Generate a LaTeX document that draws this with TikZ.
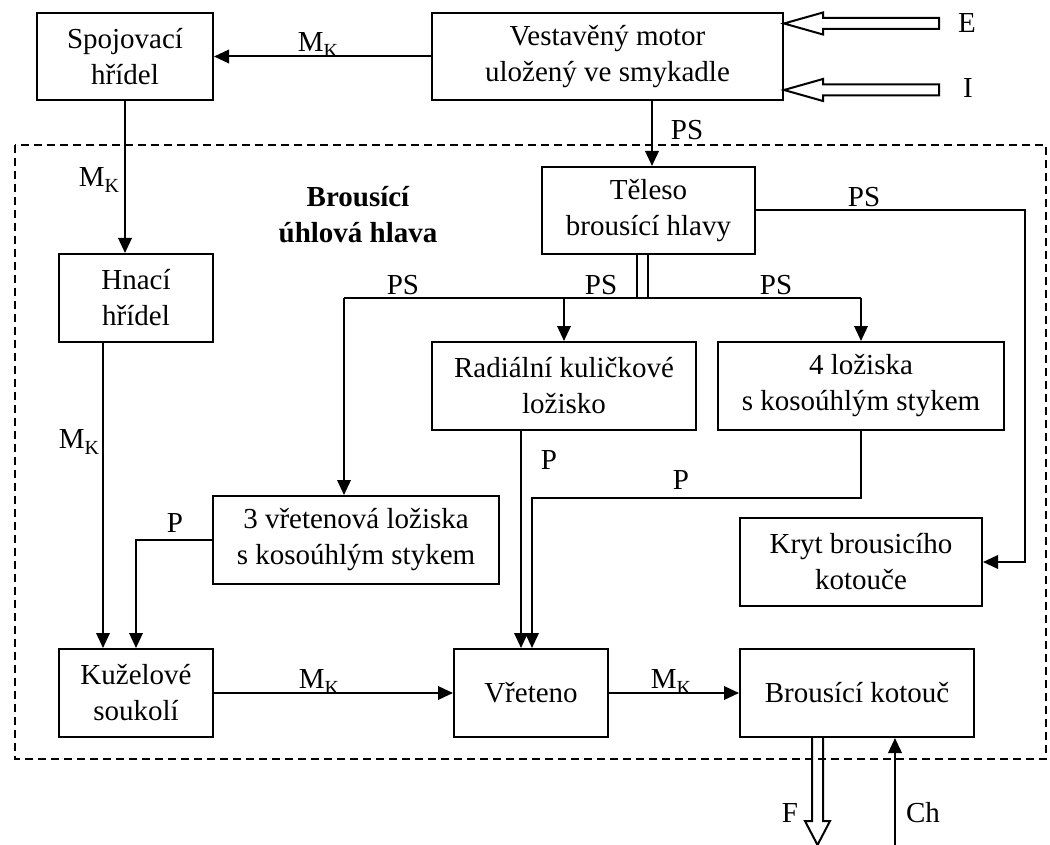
\documentclass[tikz,border=0pt]{standalone}
\usepackage{fontspec}
\setmainfont{Liberation Serif}
\usetikzlibrary{arrows.meta,calc}
\newcommand{\mk}{M\raisebox{-0.22em}{\fontsize{20}{20}\selectfont K}}
\begin{document}
\begin{tikzpicture}[x=1pt,y=-1pt,
  box/.style={draw,line width=2pt,align=center,inner sep=0pt,font=\fontsize{29}{36}\selectfont},
  lab/.style={inner sep=0pt,font=\fontsize{29}{36}\selectfont},
  conn/.style={line width=2pt},
  arr/.style={conn,-{Triangle[length=15pt,width=13.5pt]}},
  hollow/.style={line width=2pt,line join=miter},
  frame/.style={line width=1.6pt,dash pattern=on 8pt off 5pt}]
\useasboundingbox (0,0) rectangle (1050,845);

% dashed frame
\draw[frame] (15,145) rectangle (1046,759);

% boxes
\node[box,minimum width=176pt,minimum height=87pt] (spoj) at (125,56.5) {Spojovací\\hřídel};
\node[box,minimum width=351pt,minimum height=87pt] (motor) at (607.5,56.5) {Vestavěný motor\\uložený ve smykadle};
\node[box,minimum width=213pt,minimum height=87pt] (teleso) at (648.5,210.5) {Těleso\\brousící hlavy};
\node[box,minimum width=154pt,minimum height=88pt] (hnaci) at (136,298) {Hnací\\hřídel};
\node[box,minimum width=264pt,minimum height=88pt] (radial) at (564,386) {Radiální kuličkové\\ložisko};
\node[box,minimum width=286pt,minimum height=88pt] (ctyri) at (861,386) {4 ložiska\\s kosoúhlým stykem};
\node[box,minimum width=286pt,minimum height=88pt] (tri) at (356,540) {3 vřetenová ložiska\\s kosoúhlým stykem};
\node[box,minimum width=242pt,minimum height=88pt] (kryt) at (861,562) {Kryt brousicího\\kotouče};
\node[box,minimum width=154pt,minimum height=88pt] (kuz) at (136,693) {Kuželové\\soukolí};
\node[box,minimum width=154pt,minimum height=88pt] (vret) at (531,693) {Vřeteno};
\node[box,minimum width=234pt,minimum height=88pt] (bk) at (857,693) {Brousící kotouč};

% title
\node[lab,align=center,font=\fontsize{29}{36}\selectfont\bfseries] (title) at (358,214.5) {Brousící\\úhlová hlava};

% connectors
\draw[arr] (motor.west) -- (spoj.east);
\draw[arr] (spoj.south) -- (spoj.south |- hnaci.north);
\coordinate (hn) at ($(hnaci.south)+(-33,0)$);
\draw[arr] (hn) -- (hn |- kuz.north);
\coordinate (ms) at ($(teleso.north)+(3.5,0)$);
\draw[arr] (ms |- motor.south) -- (ms);
\coordinate (kr) at (1025,562);
\draw[arr] (teleso.east) -- (teleso.east -| kr) -- (kr) -- (kryt.east);

% bus from teleso
\coordinate (d1) at ($(teleso.south)+(-11.5,0)$);
\coordinate (d2) at ($(teleso.south)+(-0.5,0)$);
\coordinate (busL) at (344,298);
\coordinate (busR) at (861,298);
\draw[conn] (d1) -- (d1 |- busL);
\draw[conn] (d2) -- (d2 |- busL);
\draw[conn] (busL) -- (busR);
\draw[arr] (busL) -- (busL |- tri.north);
\draw[arr] (radial.north |- busL) -- (radial.north);
\draw[arr] (busR) -- (ctyri.north);

% P connectors
\draw[arr] (tri.west) -| (kuz.north);
\coordinate (rp) at ($(radial.south)+(-43,0)$);
\draw[arr] (rp) -- (rp |- vret.north);
\coordinate (pj) at (532,498);
\draw[arr] (ctyri.south) |- (pj) -- (pj |- vret.north);

% bottom row
\draw[arr] (kuz.east) -- (vret.west);
\draw[arr] (vret.east) -- (bk.west);

% Ch arrow
\coordinate (chs) at (895,845);
\draw[arr] (chs) -- (chs |- bk.south);

% F hollow arrow
\coordinate (Ftop) at ($(bk.south)+(-39.5,0)$);
\draw[hollow] ($(Ftop)+(-5.5,0)$) -- ++(0,83) -- ++(-7,0) -- ++(12.5,24) -- ++(12.5,-24) -- ++(-7,0) -- ++(0,-83);

% E and I hollow arrows
\coordinate (Ey) at (0,23.5);
\coordinate (Iy) at (0,90);
\coordinate (Etip) at (motor.east |- Ey);
\coordinate (Itip) at (motor.east |- Iy);
\draw[hollow] (Etip) -- ++(39,-11) -- ++(0,5.5) -- ++(116,0) -- ++(0,11) -- ++(-116,0) -- ++(0,5.5) -- cycle;
\draw[hollow] (Itip) -- ++(39,-11) -- ++(0,5.5) -- ++(116,0) -- ++(0,11) -- ++(-116,0) -- ++(0,5.5) -- cycle;

% labels
\node[lab] (lE) at (967,23) {E};
\node[lab] (lI) at (968,88) {I};
\node[lab] (l1) at (318,45) {\mk};
\node[lab] (l2) at (99,180) {\mk};
\node[lab] (l3) at (79,442) {\mk};
\node[lab] (l4) at (687,130) {PS};
\node[lab] (l5) at (864,197) {PS};
\node[lab] (l6) at (403,285) {PS};
\node[lab] (l7) at (601,285) {PS};
\node[lab] (l8) at (776,285) {PS};
\node[lab] (l9) at (175,523) {P};
\node[lab] (l10) at (549,460) {P};
\node[lab] (l11) at (681,480) {P};
\node[lab] (l12) at (319,682) {\mk};
\node[lab] (l13) at (671,682) {\mk};
\node[lab] (l14) at (790,813) {F};
\node[lab] (l15) at (923,813) {Ch};
\end{tikzpicture}
\end{document}
